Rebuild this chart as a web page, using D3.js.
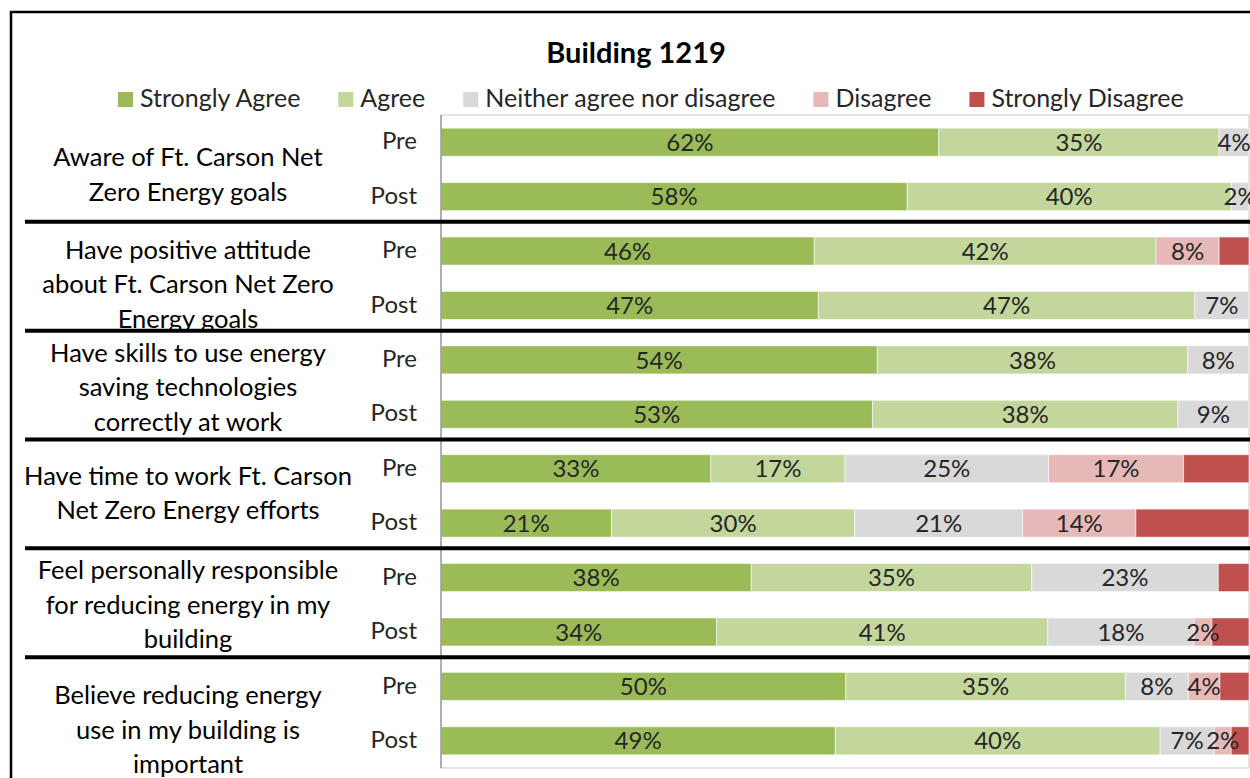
<!DOCTYPE html>
<html>
<head>
<meta charset="utf-8">
<script src="https://cdn.jsdelivr.net/npm/d3@7"></script>
<style>
  html, body { margin: 0; padding: 0; background: #fff; overflow: hidden; }
  svg { display: block; font-family: Lato, "Open Sans", sans-serif; }
</style>
</head>
<body>
<div id="chart"></div>
<script>
const W = 1250, H = 778;

// data
const questions = [
  ['Aware of Ft. Carson Net', 'Zero Energy goals'],
  ['Have positive attitude', 'about Ft. Carson Net Zero', 'Energy goals'],
  ['Have skills to use energy', 'saving technologies', 'correctly at work'],
  ['Have time to work Ft. Carson', 'Net Zero Energy efforts'],
  ['Feel personally responsible', 'for reducing energy in my', 'building'],
  ['Believe reducing energy', 'use in my building is', 'important']
];
const phases = ['Pre', 'Post'];
const seriesNames = ['Strongly Agree', 'Agree', 'Neither agree nor disagree', 'Disagree', 'Strongly Disagree'];

// one value per bar, in order Q1 Pre, Q1 Post, Q2 Pre, ...
const stronglyAgree    = [61.6, 57.7, 46.2, 46.7, 54.0, 53.4, 33.4, 21.1, 38.4, 34.1, 50.1, 48.8];
const agree            = [34.7, 40.1, 42.3, 46.6, 38.4, 37.8, 16.6, 30.1, 34.7, 41.0, 34.6, 40.2];
const neither          = [ 3.7,  2.2,  0.0,  6.7,  7.6,  8.8, 25.2, 20.8, 23.1, 18.1,  7.8,  6.7];
const disagree         = [ 0.0,  0.0,  7.8,  0.0,  0.0,  0.0, 16.7, 14.0,  0.0,  2.2,  3.9,  2.1];
const stronglyDisagree = [ 0.0,  0.0,  3.7,  0.0,  0.0,  0.0,  8.1, 14.0,  3.8,  4.6,  3.6,  2.2];

const COLORS = ['#9BBB59', '#C3D69B', '#D9D9D9', '#E6B9B8', '#C0504D'];
const TEXT_C = '#262626';
const FONT = 24;
const Q_FONT = 25.5;
const LEG_FONT = 25;

// layout
const PLOT_L = 441, PLOT_R = 1249, PLOT_T = 115, PLOT_B = 768;
const LABEL_CX = 188, PHASE_X = 417;
const LABEL_NUDGE = [5, 6, 0, -3, 0, 16];
const LINE_H = 34.5;

const rows = [];
questions.forEach((q, qi) => phases.forEach((p, pi) => rows.push({ q: qi, phase: p, i: qi * 2 + pi })));

const seriesVals = [stronglyAgree, agree, neither, disagree, stronglyDisagree];
const stackData = rows.map(r => {
  const o = { i: r.i };
  seriesNames.forEach((s, k) => { o[s] = seriesVals[k][r.i]; });
  return o;
});
const stacked = d3.stack().keys(seriesNames)(stackData);

const x = d3.scaleLinear().domain([0, 100]).range([PLOT_L, PLOT_R]);
const y = d3.scaleBand().domain(rows.map(r => r.i)).range([PLOT_T, PLOT_B])
  .paddingInner(0.485).paddingOuter(0.2425);

const svg = d3.select('#chart').append('svg')
  .attr('width', W).attr('height', H);

const defs = svg.append('defs');
defs.append('filter').attr('id', 'shadow')
  .attr('x', '-5%').attr('y', '-200%').attr('width', '110%').attr('height', '500%')
  .append('feGaussianBlur').attr('stdDeviation', 1.6);

// outer frame
svg.append('path')
  .attr('d', `M 11 ${H + 5} L 11 12 L ${W + 5} 12`)
  .attr('fill', 'none').attr('stroke', '#000').attr('stroke-width', 2.5);

// title
svg.append('text')
  .attr('x', 636).attr('y', 63)
  .attr('text-anchor', 'middle')
  .attr('font-size', 29).attr('font-weight', 'bold').attr('fill', '#000')
  .text('Building 1219');

// legend
const legend = svg.append('g');
let lx = 118;
seriesNames.forEach((s, k) => {
  const g = legend.append('g').attr('transform', `translate(${lx},0)`);
  g.append('rect').attr('x', 0).attr('y', 92).attr('width', 15).attr('height', 15)
    .attr('fill', COLORS[k]);
  const t = g.append('text').attr('x', 22).attr('y', 107)
    .attr('font-size', LEG_FONT).attr('fill', TEXT_C).text(s);
  lx += 22 + t.node().getComputedTextLength() + 38;
});

// plot area border
svg.append('rect')
  .attr('x', PLOT_L).attr('y', PLOT_T)
  .attr('width', PLOT_R - PLOT_L).attr('height', PLOT_B - PLOT_T)
  .attr('fill', 'none').attr('stroke', '#C8C8C8').attr('stroke-width', 1);

// bars
const layers = svg.append('g').selectAll('g')
  .data(stacked).join('g')
  .attr('fill', (d, k) => COLORS[k]);

layers.selectAll('rect')
  .data(d => d.filter(v => v[1] - v[0] > 0))
  .join('rect')
  .attr('x', d => x(d[0]))
  .attr('y', d => y(d.data.i))
  .attr('width', d => x(d[1]) - x(d[0]))
  .attr('height', y.bandwidth())
  .attr('stroke', 'rgba(255,255,255,0.55)')
  .attr('stroke-width', 1);

// value labels (not on Strongly Disagree)
const labels = svg.append('g')
  .attr('font-size', FONT).attr('fill', TEXT_C).attr('text-anchor', 'middle');
stacked.forEach((layer, k) => {
  if (k === 4) return;
  labels.selectAll(null)
    .data(layer.filter(v => v[1] - v[0] > 0))
    .join('text')
    .attr('x', d => (x(d[0]) + x(d[1])) / 2)
    .attr('y', d => y(d.data.i) + y.bandwidth() / 2)
    .attr('dy', '0.36em')
    .text(d => Math.round(d[1] - d[0]) + '%');
});

// axis line
svg.append('line')
  .attr('x1', PLOT_L).attr('x2', PLOT_L)
  .attr('y1', PLOT_T).attr('y2', PLOT_B)
  .attr('stroke', '#8C8C8C').attr('stroke-width', 1.2);

// Pre / Post labels
svg.append('g').selectAll('text')
  .data(rows).join('text')
  .attr('x', PHASE_X)
  .attr('y', d => y(d.i) + y.bandwidth() / 2)
  .attr('dy', '0.3em')
  .attr('text-anchor', 'end')
  .attr('font-size', FONT).attr('fill', TEXT_C)
  .text(d => d.phase);

// question labels
questions.forEach((q, qi) => {
  const cy = (y(qi * 2) + y(qi * 2 + 1) + y.bandwidth()) / 2 + LABEL_NUDGE[qi];
  const t = svg.append('text')
    .attr('text-anchor', 'middle')
    .attr('font-size', Q_FONT).attr('fill', '#000');
  q.forEach((line, li) => {
    t.append('tspan')
      .attr('x', LABEL_CX)
      .attr('y', cy + (li - (q.length - 1) / 2) * LINE_H)
      .attr('dy', '0.35em')
      .text(line);
  });
});

// group separators with soft shadow
const seps = d3.range(1, questions.length).map(g => {
  const a = y(g * 2 - 1) + y.bandwidth();
  const b = y(g * 2);
  return (a + b) / 2 - 2;
});
svg.append('g').selectAll('line')
  .data(seps).join('line')
  .attr('x1', 27).attr('x2', W + 5)
  .attr('y1', d => d + 4).attr('y2', d => d + 4)
  .attr('stroke', '#9A9A9A').attr('stroke-width', 4)
  .attr('filter', 'url(#shadow)');
svg.append('g').selectAll('line')
  .data(seps).join('line')
  .attr('x1', 25).attr('x2', W + 5)
  .attr('y1', d => d).attr('y2', d => d)
  .attr('stroke', '#000').attr('stroke-width', 4);
</script>
</body>
</html>
